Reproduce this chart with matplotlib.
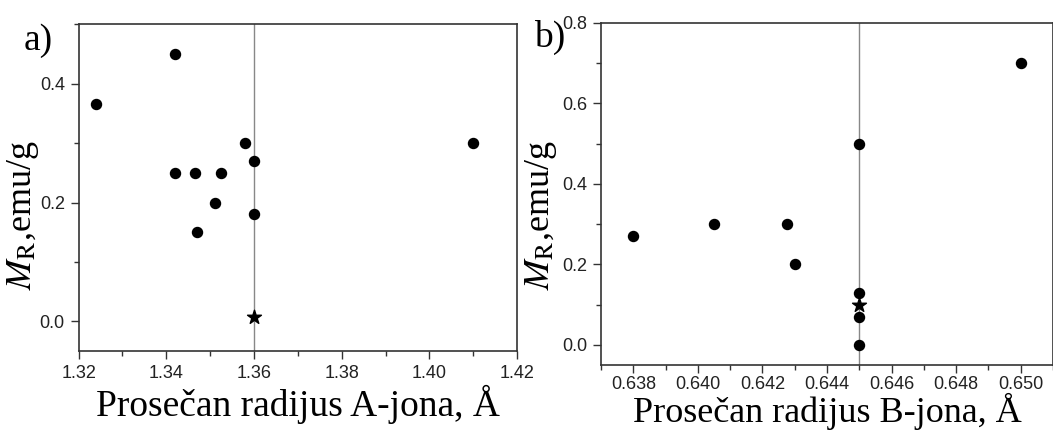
import matplotlib
matplotlib.use("Agg")
import matplotlib.pyplot as plt
from matplotlib.ticker import MultipleLocator, FormatStrFormatter

# panel a: average A-ion radius vs remanent magnetization
radius_a = [1.324, 1.342, 1.342, 1.3465, 1.3525, 1.347, 1.351, 1.358, 1.360, 1.360, 1.410]
mr_a = [0.365, 0.45, 0.25, 0.25, 0.25, 0.15, 0.20, 0.30, 0.27, 0.18, 0.30]
star_a = (1.360, 0.007)
vline_a = 1.36

# panel b: average B-ion radius
radius_b = [0.638, 0.6405, 0.64275, 0.643, 0.645, 0.645, 0.645, 0.645, 0.650]
mr_b = [0.27, 0.30, 0.30, 0.20, 0.50, 0.13, 0.07, 0.0, 0.70]
star_b = (0.645, 0.10)
vline_b = 0.645

plt.rcParams['mathtext.fontset'] = 'stix'
serif = 'Liberation Serif'
sans = 'Liberation Sans'
ink = '#333333'

fig = plt.figure(figsize=(10.53, 4.30), dpi=100)
ax1 = fig.add_axes([0.0747, 0.1837, 0.4163, 0.7598])
ax2 = fig.add_axes([0.5708, 0.151, 0.4292, 0.796])


def style(ax, xmaj, xmin, ymaj, ymin, xfmt, xpad=4):
    ax.xaxis.set_major_locator(MultipleLocator(xmaj))
    ax.xaxis.set_minor_locator(MultipleLocator(xmin))
    ax.yaxis.set_major_locator(MultipleLocator(ymaj))
    ax.yaxis.set_minor_locator(MultipleLocator(ymin))
    ax.xaxis.set_major_formatter(FormatStrFormatter(xfmt))
    ax.yaxis.set_major_formatter(FormatStrFormatter('%.1f'))
    ax.tick_params(which='major', direction='out', length=6, width=1,
                   labelsize=13, color=ink, labelcolor='#222222', pad=4)
    ax.tick_params(axis='x', which='major', pad=xpad)
    ax.tick_params(which='minor', direction='out', length=3.5, width=1, color=ink)
    for lab in ax.get_xticklabels() + ax.get_yticklabels():
        lab.set_fontfamily(sans)
    for sp in ax.spines.values():
        sp.set_color(ink)
        sp.set_linewidth(1.2)


# a)
ax1.axvline(vline_a, color='#888888', lw=1, zorder=1)
ax1.scatter(radius_a, mr_a, s=52, color='black', zorder=3)
ax1.scatter([star_a[0]], [star_a[1]], s=110, marker='*', color='black', zorder=3)
ax1.set_xlim(1.32, 1.42)
ax1.set_ylim(-0.05, 0.5)
style(ax1, 0.02, 0.01, 0.2, 0.1, '%.2f')
ax1.set_xlabel('Prosečan radijus A-jona, Å', fontfamily=serif, fontsize=27, labelpad=2)
ax1.set_ylabel(r'$\mathit{M}_{\mathrm{R}}$,emu/g', fontfamily=serif, fontsize=26)
ax1.yaxis.set_label_coords(-0.087, 0.416)
fig.text(0.022, 0.885, 'a)', fontfamily=serif, fontsize=27)

# b)
ax2.axvline(vline_b, color='#888888', lw=1, zorder=1)
ax2.scatter(radius_b, mr_b, s=52, color='black', zorder=3)
ax2.scatter([star_b[0]], [star_b[1]], s=110, marker='*', color='black', zorder=3)
ax2.set_xlim(0.637, 0.651)
ax2.set_ylim(-0.05, 0.8)
style(ax2, 0.002, 0.001, 0.2, 0.1, '%.3f', xpad=2)
ax2.set_xlabel('Prosečan radijus B-jona, Å', fontfamily=serif, fontsize=26, labelpad=0)
ax2.set_ylabel(r'$\mathit{M}_{\mathrm{R}}$,emu/g', fontfamily=serif, fontsize=26)
ax2.yaxis.set_label_coords(-0.092, 0.438)
fig.text(0.507, 0.89, 'b)', fontfamily=serif, fontsize=27)

fig.savefig('out.png', dpi=100)
